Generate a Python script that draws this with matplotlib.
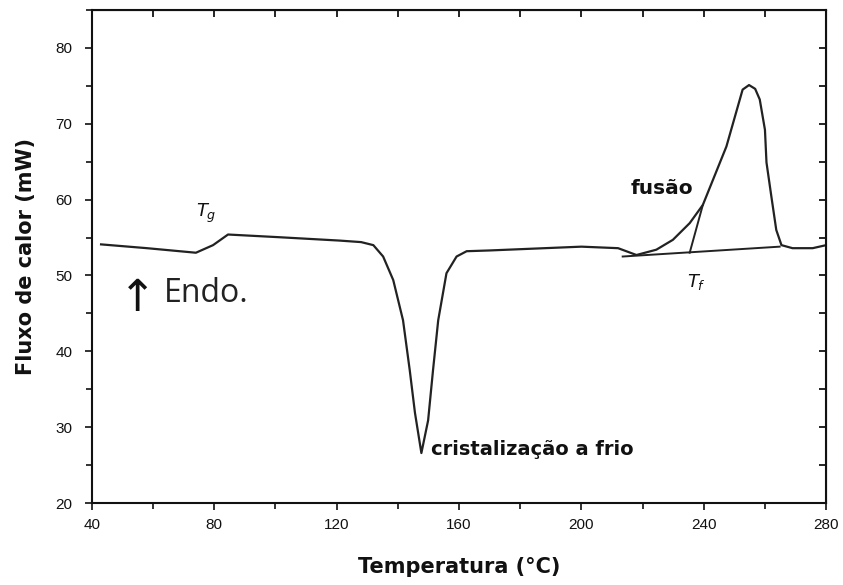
import matplotlib
matplotlib.use("Agg")
import matplotlib.pyplot as plt
from matplotlib.ticker import MultipleLocator

# DSC curve
temp = [43, 58, 74, 79.6, 84.5, 101, 121, 128, 132, 135.2, 138.5, 141.7, 143.9, 145.6,
        147.7, 149.9, 151.5, 153.2, 155.9, 159.2, 162.5, 170, 200, 212, 218, 224.5,
        229.9, 235.4, 239.7, 247.4, 252.7, 254.8, 256.8, 258.3, 260.0, 260.5, 262.1,
        263.7, 265.4, 269, 275.6, 280]
flux = [54.1, 53.6, 53.0, 54.0, 55.4, 55.05, 54.6, 54.4, 54.0, 52.5, 49.4, 44.1, 37.5, 31.9,
        26.6, 30.9, 37.5, 44.1, 50.3, 52.5, 53.2, 53.3, 53.8, 53.6, 52.7, 53.4,
        54.7, 56.9, 59.3, 67.0, 74.5, 75.1, 74.6, 73.2, 69.2, 64.9, 60.4,
        56.0, 54.0, 53.6, 53.6, 54.0]

# construction lines for the melting onset
base_x = [213.5, 264.8]
base_y = [52.5, 53.8]
tan_x = [235.4, 239.7]
tan_y = [53.0, 59.3]

xticks = [40, 80, 120, 160, 200, 240, 280]
yticks = [20, 30, 40, 50, 60, 70, 80]

plt.rcParams['font.family'] = ['Liberation Sans', 'DejaVu Sans']

fig = plt.figure(figsize=(8.43, 5.85), dpi=100)
ax = fig.add_axes([0.109, 0.140, 0.871, 0.843])

col = '#222222'
ax.plot(temp, flux, color=col, lw=1.6)
ax.plot(base_x, base_y, color=col, lw=1.4)
ax.plot(tan_x, tan_y, color=col, lw=1.4)

ax.set_xlim(40, 280)
ax.set_ylim(20, 85)
ax.set_xticks(xticks)
ax.set_xticklabels([str(v) for v in xticks])
ax.set_yticks(yticks)
ax.set_yticklabels([str(v) for v in yticks])
ax.xaxis.set_minor_locator(MultipleLocator(20))
ax.yaxis.set_minor_locator(MultipleLocator(5))

for s in ax.spines.values():
    s.set_linewidth(1.5)
    s.set_color('#111111')

ax.tick_params(which='both', direction='out', top=False, right=False,
               labelsize=11, width=1.2, colors='#111111')
ax.tick_params(which='major', length=5)
ax.tick_params(which='minor', length=4)
ax.tick_params(axis='y', pad=9)
ax.tick_params(axis='x', pad=6)

# mirrored inward ticks on top/right
ax2 = ax.secondary_xaxis('top')
ax2.set_xticks(xticks)
ax2.xaxis.set_minor_locator(MultipleLocator(20))
ax2.tick_params(which='both', direction='in', length=5, width=1.2, labeltop=False)
ax3 = ax.secondary_yaxis('right')
ax3.set_yticks(yticks)
ax3.yaxis.set_minor_locator(MultipleLocator(5))
ax3.tick_params(which='both', direction='in', length=5, width=1.2, labelright=False)

lab = dict(fontsize=15, fontweight='bold', color='#111111', family=['DejaVu Sans'])
ax.set_xlabel('Temperatura (°C)', labelpad=18, **lab)
ax.set_ylabel('Fluxo de calor (mW)', labelpad=14, **lab)

ax.text(74.0, 56.6, r'$T_g$', fontsize=13, color='#111111', ha='left', va='bottom')
ax.text(234.5, 47.8, r'$T_f$', fontsize=13, color='#111111', ha='left', va='bottom')
ax.text(216.0, 61.5, 'fusão', fontsize=14.5, fontweight='bold', color='#111111', va='center',
        family=['DejaVu Sans'])
ax.text(150.8, 27.0, 'cristalização a frio', fontsize=14, fontweight='bold', color='#111111',
        va='center', family=['DejaVu Sans'])
ax.text(48.8, 47.0, '↑', fontsize=32, color='#111111', va='center',
        family=['DejaVu Sans'])
ax.text(63.5, 47.6, 'Endo.', fontsize=23, color='#222222', va='center',
        family=['Open Sans', 'DejaVu Sans'])

fig.savefig('out.png', dpi=100)
